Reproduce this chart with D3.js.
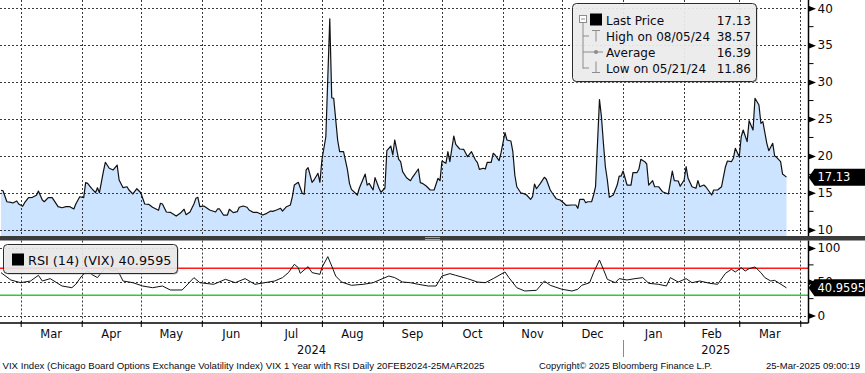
<!DOCTYPE html>
<html>
<head>
<meta charset="utf-8">
<script src="https://cdn.jsdelivr.net/npm/d3@7"></script>
<style>
body { margin: 0; background: #fff; }
text { font-family: "DejaVu Sans", sans-serif; fill: #0a0a14; }
text.foot { font-family: "Liberation Sans", Arial, sans-serif; }
</style>
</head>
<body>
<div id="chart"></div>
<script>
'use strict';

// series start / end (daily VIX, 20 Feb 2024 - 25 Mar 2025)
var startDate = new Date(2024, 1, 20);
var endDate = new Date(2025, 2, 25);

// day offsets from startDate
var vixDays = [0,1,3,5,6,8,9,11,12,14,16,18,19,21,22,24,26,27,29,31,33,35,37,38,40,42,43,44,46,48,49,50,52,53,55,57,59,60,62,64,65,67,69,71,73,75,77,80,81,82,84,86,88,89,91,93,94,96,98,99,100,101,103,104,106,109,110,111,113,115,116,118,120,121,123,125,126,128,130,133,135,137,138,140,142,143,145,147,148,149,151,153,154,155,156,158,159,161,162,163,165,167,168,169,171,172,174,176,177,178,181,182,185,186,187,189,190,192,193,195,196,198,199,200,202,203,204,206,208,209,212,213,214,216,218,220,222,223,224,226,227,228,230,231,233,235,237,239,241,242,243,245,246,247,249,250,251,253,254,256,257,259,260,261,262,264,265,267,269,270,271,272,274,276,277,279,281,282,284,286,287,290,292,293,294,296,297,298,300,301,302,304,305,306,307,308,309,311,313,314,315,316,318,320,321,323,324,325,327,328,329,331,332,334,336,339,341,342,344,345,347,348,349,351,353,354,355,357,358,361,362,364,366,368,369,371,372,373,375,376,377,379,380,382,383,385,386,387,389,390,392,393,394,396,397,399];
var vixValues = [15.35,15.29,13.80,13.72,13.63,13.90,13.49,13.18,13.67,14.35,14.40,14.67,15.25,14.03,13.80,14.35,14.35,13.94,13.13,12.99,13.13,13.13,12.82,13.49,14.48,14.35,16.38,16.29,15.62,15.02,15.70,15.02,17.87,19.14,18.33,18.10,18.77,16.74,15.70,15.83,15.39,14.85,15.56,15.02,13.49,13.45,13.05,12.64,13.59,13.49,12.41,12.37,12.05,11.86,12.23,12.78,12.05,12.41,13.49,14.26,14.40,13.13,13.22,13.05,12.68,12.41,12.82,12.82,12.00,12.00,12.78,12.32,12.45,13.05,13.22,13.05,12.68,12.37,12.37,12.00,12.23,12.54,12.50,12.68,12.91,12.54,13.13,13.36,14.48,16.06,16.43,14.94,14.81,18.10,18.41,16.43,16.74,17.65,16.43,19.45,22.60,38.57,27.88,27.80,22.16,20.57,20.57,18.10,16.29,15.48,14.71,15.62,17.55,16.06,16.29,15.39,17.06,15.62,15.08,15.62,20.71,21.34,20.13,22.16,19.54,19.22,17.87,17.05,16.65,17.11,18.23,16.38,16.29,15.93,15.39,15.39,16.97,16.65,19.31,19.00,20.57,19.22,22.70,21.57,20.94,20.90,19.90,20.57,19.45,19.09,18.19,18.33,18.23,19.14,19.14,20.36,20.13,19.36,20.44,23.15,22.16,22.02,20.57,17.42,15.83,15.02,14.94,14.71,14.13,14.48,16.20,15.56,16.29,17.11,16.84,15.39,14.58,14.21,14.03,13.59,13.32,13.36,13.36,12.91,14.13,14.13,13.67,13.80,13.80,14.71,15.83,27.62,25.31,21.71,18.54,16.74,14.40,14.71,16.06,17.28,17.28,17.96,16.06,16.06,17.73,17.73,18.19,19.54,19.22,18.91,16.06,16.65,15.83,15.83,15.16,14.85,17.96,16.65,16.61,15.89,16.74,18.54,16.97,15.83,15.62,16.65,15.83,16.06,15.83,14.71,15.39,15.39,15.83,18.54,19.31,19.22,19.68,21.03,19.90,22.60,23.51,21.93,24.77,23.51,27.80,26.89,24.42,24.63,21.71,20.71,21.71,19.99,19.81,19.22,17.55,17.13];

var rsiDays = [0,5,10,15,19,21,25,31,36,38,41,44,46,49,53,57,59,62,67,72,77,82,86,92,94,98,101,108,114,119,124,129,134,139,143,146,149,151,152,156,158,162,163,166,168,170,173,178,184,189,197,200,204,208,212,217,221,224,228,231,237,242,246,250,256,258,262,266,272,276,279,285,290,293,295,299,301,304,306,308,312,314,318,322,326,329,334,338,340,344,348,351,355,360,364,368,371,373,376,378,380,383,386,388,391,393,399];
var rsiValues = [63.5,52.6,48.6,51.1,59.5,51.1,54.6,43.7,41.2,46.2,58.5,65.9,61.0,56.1,70.9,65.9,68.4,51.1,48.6,43.7,41.2,43.7,37.8,37.8,43.7,56.1,48.6,46.2,53.6,48.6,54.6,46.2,48.6,51.1,56.1,63.5,75.8,70.9,62.5,72.4,63.5,61.0,70.9,87.2,73.3,58.5,49.6,44.7,46.2,48.6,58.5,56.1,49.6,48.6,46.2,43.7,43.7,58.5,62.0,59.5,54.6,49.6,48.6,54.6,64.5,56.1,41.2,36.3,37.3,51.1,44.7,38.8,36.3,38.8,44.7,48.6,63.5,82.2,68.4,53.6,48.6,54.6,52.6,54.6,56.1,47.7,46.2,43.7,56.1,49.6,54.6,48.6,51.1,47.7,46.2,62.5,68.4,64.5,70.9,65.9,69.4,71.9,63.5,56.1,51.1,52.1,40.96];

var priceTicks = [10, 15, 20, 25, 30, 35, 40];
var priceMinorTicks = [12.5, 17.5, 22.5, 27.5, 32.5, 37.5];
var rsiTicks = [0, 50, 100];
var rsiMinorTicks = [25, 75];
var rsiBands = [70, 30];
var rsiBandColors = ['#ff1a1a', '#2ecc2e'];

var monthLabels = ['Mar','Apr','May','Jun','Jul','Aug','Sep','Oct','Nov','Dec','Jan','Feb','Mar'];
var yearLabels = ['2024', '2025'];

var legendLabels = ['Last Price', 'High on 08/05/24', 'Average', 'Low on 05/21/24'];
var legendValues = ['17.13', '38.57', '16.39', '11.86'];
var lastPrice = 17.13;
var lastRsi = 40.9595;
var rsiLegend = 'RSI (14) (VIX) 40.9595';

var footerLeft = 'VIX Index (Chicago Board Options Exchange Volatility Index) VIX 1 Year with RSI  Daily 20FEB2024-25MAR2025';
var footerMid = 'Copyright\u00a9 2025 Bloomberg Finance L.P.';
var footerRight = '25-Mar-2025 09:00:19';


var chart = {};

chart.w = 865;
chart.h = 373;
chart.axisX = 808.5;
chart.price = {top: 0, bottom: 236};
chart.rsi = {top: 240.5, bottom: 323};

chart.x = d3.scaleTime().domain([startDate, endDate]).range([1, 786.5]);
chart.yPrice = d3.scaleLinear().domain([10, 40]).range([229.8, 8.2]);
chart.yRsi = d3.scaleLinear().domain([0, 100]).range([315.5, 248]);

chart.toPoints = function(days, values){
    return days.map(function(d, i){
        return {date: d3.timeDay.offset(startDate, d), value: values[i]};
    });
}

chart.gridLines = function(g, y, ticks, top, bottom, monthStarts){
    g.selectAll('line.h')
        .data(ticks)
        .enter().append('line')
        .attr('class', 'h')
        .attr('x1', 0).attr('x2', chart.axisX)
        .attr('y1', function(d){ return Math.round(y(d)) + 0.5; })
        .attr('y2', function(d){ return Math.round(y(d)) + 0.5; });

    g.selectAll('line.v')
        .data(monthStarts)
        .enter().append('line')
        .attr('class', 'v')
        .attr('x1', function(d){ return Math.round(chart.x(d)) + 0.5; })
        .attr('x2', function(d){ return Math.round(chart.x(d)) + 0.5; })
        .attr('y1', top).attr('y2', bottom);

    g.selectAll('line')
        .attr('stroke', '#3a3a3a')
        .attr('stroke-width', 1)
        .attr('stroke-dasharray', '2,2');
}

chart.rightAxis = function(svg, y, ticks, minor, top, bottom){
    var g = svg.append('g')
        .attr('transform', 'translate(' + chart.axisX + ',0)')
        .call(d3.axisRight(y).tickValues(ticks).tickSize(0).tickPadding(9));

    g.select('.domain').remove();
    g.selectAll('.tick text')
        .style('font-size', '12px')
        .style('fill', '#0a0a14');
    g.selectAll('.tick').append('path')
        .attr('d', 'M0,-3L7.5,0L0,3Z')
        .attr('fill', '#000');

    g.selectAll('line.minor')
        .data(minor)
        .enter().append('line')
        .attr('class', 'minor')
        .attr('x1', 0).attr('x2', 5)
        .attr('y1', function(d){ return y(d); })
        .attr('y2', function(d){ return y(d); })
        .attr('stroke', '#000');

    g.append('line')
        .attr('x1', 0).attr('x2', 0)
        .attr('y1', top).attr('y2', bottom)
        .attr('stroke', '#000')
        .attr('stroke-width', 1.5);
}

chart.valueTag = function(svg, yPos, label){
    var g = svg.append('g');
    var x0 = chart.axisX;
    g.append('path')
        .attr('d', 'M' + x0 + ',' + yPos + 'L' + (x0 + 6) + ',' + (yPos - 8.5) +
              'L' + chart.w + ',' + (yPos - 8.5) + 'L' + chart.w + ',' + (yPos + 8.5) +
              'L' + (x0 + 6) + ',' + (yPos + 8.5) + 'Z')
        .attr('fill', '#000');
    g.append('text')
        .attr('x', x0 + 9)
        .attr('y', yPos + 4)
        .style('font-size', '11.5px')
        .style('fill', '#fff')
        .text(label);
}

chart.drawLegend = function(svg){
    var g = svg.append('g');
    var grey = '#8c8c8c';

    g.append('rect')
        .attr('x', 573.5).attr('y', 4.5).attr('width', 184).attr('height', 78).attr('rx', 4)
        .attr('fill', '#9a9a9a').attr('opacity', 0.6);
    g.append('rect')
        .attr('x', 572.5).attr('y', 3.5).attr('width', 184).attr('height', 78).attr('rx', 4)
        .attr('fill', 'rgba(242,242,242,0.86)').attr('stroke', '#2a2a2a');

    // tree
    g.append('rect')
        .attr('x', 579.5).attr('y', 15.5).attr('width', 7).attr('height', 7)
        .attr('fill', '#fff').attr('stroke', grey);
    g.append('line').attr('x1', 581).attr('x2', 585).attr('y1', 19).attr('y2', 19).attr('stroke', grey);
    g.append('line').attr('x1', 583).attr('x2', 583).attr('y1', 22.5).attr('y2', 68.5).attr('stroke', grey);

    var rowY = [19.5, 35.5, 51.5, 67.5];
    rowY.slice(1).forEach(function(ry){
        g.append('line').attr('x1', 583).attr('x2', 589).attr('y1', ry + 0.5).attr('y2', ry + 0.5).attr('stroke', grey);
    });

    g.append('rect').attr('x', 590).attr('y', 13.5).attr('width', 12).attr('height', 12).attr('fill', '#000');

    g.append('path').attr('d', 'M592,30.5H600M596,30.5V41.5').attr('stroke', grey).attr('fill', 'none');
    g.append('path').attr('d', 'M589,52H603').attr('stroke', grey);
    g.append('circle').attr('cx', 596).attr('cy', 52).attr('r', 2).attr('fill', grey);
    g.append('path').attr('d', 'M596,61.5V72.5M592,72.5H600').attr('stroke', grey).attr('fill', 'none');

    g.selectAll('text.lab')
        .data(legendLabels)
        .enter().append('text')
        .attr('class', 'lab')
        .attr('x', 606)
        .attr('y', function(d, i){ return rowY[i] + 5.5; })
        .style('font-size', '12px')
        .text(function(d){ return d; });

    g.selectAll('text.val')
        .data(legendValues)
        .enter().append('text')
        .attr('class', 'val')
        .attr('x', 751)
        .attr('y', function(d, i){ return rowY[i] + 5.5; })
        .attr('text-anchor', 'end')
        .style('font-size', '12px')
        .text(function(d){ return d; });
}

chart.drawRsiLegend = function(svg){
    var g = svg.append('g');
    g.append('rect')
        .attr('x', 4.5).attr('y', 245.5).attr('width', 174).attr('height', 29).attr('rx', 4)
        .attr('fill', '#9a9a9a').attr('opacity', 0.6);
    g.append('rect')
        .attr('x', 3.5).attr('y', 244.5).attr('width', 174).attr('height', 29).attr('rx', 4)
        .attr('fill', 'rgba(242,242,242,0.8)').attr('stroke', '#2a2a2a');
    g.append('rect').attr('x', 12).attr('y', 253.5).attr('width', 12).attr('height', 12).attr('fill', '#000');
    g.append('text')
        .attr('x', 28).attr('y', 265)
        .style('font-size', '12.8px')
        .text(rsiLegend);
}

chart.run = function(){
    var svg = d3.select('#chart').append('svg')
        .attr('width', chart.w)
        .attr('height', chart.h);

    svg.append('rect').attr('width', chart.w).attr('height', chart.h).attr('fill', '#fff');

    var monthStarts = d3.timeMonth.range(new Date(2024, 2, 1), new Date(2025, 3, 2));
    var vix = chart.toPoints(vixDays, vixValues);
    var rsi = chart.toPoints(rsiDays, rsiValues);

    // price area
    var area = d3.area()
        .x(function(d){ return chart.x(d.date); })
        .y0(chart.price.bottom)
        .y1(function(d){ return chart.yPrice(d.value); });
    var line = d3.line()
        .x(function(d){ return chart.x(d.date); })
        .y(function(d){ return chart.yPrice(d.value); });

    svg.append('path')
        .datum(vix)
        .attr('d', area)
        .attr('fill', '#cce4ff');

    chart.gridLines(svg.append('g'), chart.yPrice, priceTicks, chart.price.top, chart.price.bottom, monthStarts);

    svg.append('path')
        .datum(vix)
        .attr('d', line)
        .attr('fill', 'none')
        .attr('stroke', '#111')
        .attr('stroke-width', 1.2)
        .attr('stroke-linejoin', 'round');

    // rsi panel
    chart.gridLines(svg.append('g'), chart.yRsi, rsiTicks, chart.rsi.top, chart.rsi.bottom, monthStarts);

    svg.selectAll('line.band')
        .data(rsiBands)
        .enter().append('line')
        .attr('class', 'band')
        .attr('x1', 0).attr('x2', chart.axisX)
        .attr('y1', function(d){ return chart.yRsi(d); })
        .attr('y2', function(d){ return chart.yRsi(d); })
        .attr('stroke', function(d, i){ return rsiBandColors[i]; })
        .attr('stroke-width', 1.5);

    var rsiLine = d3.line()
        .x(function(d){ return chart.x(d.date); })
        .y(function(d){ return chart.yRsi(d.value); });

    svg.append('path')
        .datum(rsi)
        .attr('d', rsiLine)
        .attr('fill', 'none')
        .attr('stroke', '#111')
        .attr('stroke-width', 1);

    chart.drawRsiLegend(svg);
    chart.drawLegend(svg);

    // panel separator
    svg.append('rect')
        .attr('x', 0).attr('y', chart.price.bottom)
        .attr('width', chart.w).attr('height', chart.rsi.top - chart.price.bottom)
        .attr('fill', '#3c3c3c');
    svg.append('path')
        .attr('d', 'M425,237.5H440M425,239.5H440')
        .attr('stroke', '#a0a0a0');

    // right axes
    chart.rightAxis(svg, chart.yPrice, priceTicks, priceMinorTicks, chart.price.top, chart.price.bottom);
    chart.rightAxis(svg, chart.yRsi, rsiTicks, rsiMinorTicks, chart.rsi.top, chart.rsi.bottom);

    chart.valueTag(svg, chart.yPrice(lastPrice), lastPrice.toFixed(2));
    chart.valueTag(svg, chart.yRsi(lastRsi), String(lastRsi));

    // bottom axis
    var xAxis = svg.append('g')
        .attr('transform', 'translate(0,' + chart.rsi.bottom + ')')
        .call(d3.axisBottom(chart.x).tickValues(monthStarts).tickSize(4).tickFormat(''));
    xAxis.select('.domain').remove();
    xAxis.selectAll('.tick line').attr('y1', -2).attr('stroke', '#000');

    svg.append('line')
        .attr('x1', 0).attr('x2', chart.axisX)
        .attr('y1', chart.rsi.bottom).attr('y2', chart.rsi.bottom)
        .attr('stroke', '#000').attr('stroke-width', 1.5);

    svg.selectAll('text.month')
        .data(monthLabels)
        .enter().append('text')
        .attr('class', 'month')
        .attr('x', function(d, i){ return (chart.x(monthStarts[i]) + chart.x(monthStarts[i + 1])) / 2; })
        .attr('y', 338)
        .attr('text-anchor', 'middle')
        .style('font-size', '11.5px')
        .text(function(d){ return d; });

    var yearBreak = chart.x(new Date(2025, 0, 1));
    var yearSpans = [[0, yearBreak], [yearBreak, chart.axisX]];
    svg.selectAll('text.year')
        .data(yearLabels)
        .enter().append('text')
        .attr('class', 'year')
        .attr('x', function(d, i){ return (yearSpans[i][0] + yearSpans[i][1]) / 2; })
        .attr('y', 354)
        .attr('text-anchor', 'middle')
        .style('font-size', '11.5px')
        .text(function(d){ return d; });

    svg.append('line')
        .attr('x1', Math.round(yearBreak) + 0.5).attr('x2', Math.round(yearBreak) + 0.5)
        .attr('y1', 340).attr('y2', 357)
        .attr('stroke', '#8a8a8a');

    // footer
    var foot = [[footerLeft, 2.5, 482], [footerMid, 539, 173], [footerRight, 766, 94]];
    svg.selectAll('text.foot')
        .data(foot)
        .enter().append('text')
        .attr('class', 'foot')
        .attr('x', function(d){ return d[1]; })
        .attr('y', 369)
        .attr('textLength', function(d){ return d[2]; })
        .attr('lengthAdjust', 'spacingAndGlyphs')
        .style('font-size', '8.8px')
        .text(function(d){ return d[0]; });
}

chart.run();
</script>
</body>
</html>
